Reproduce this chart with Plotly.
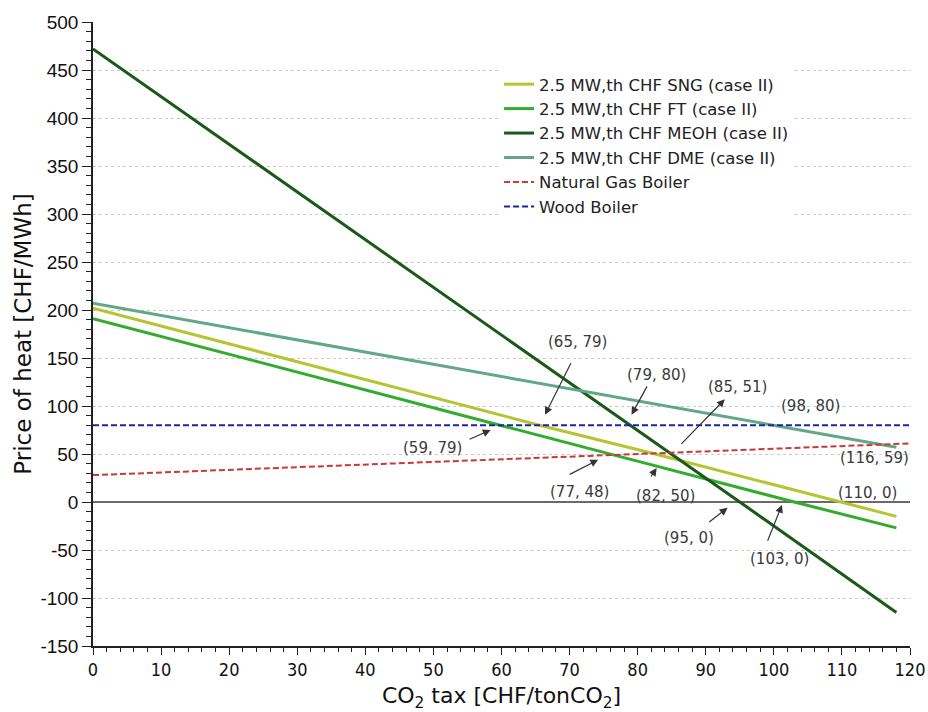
import plotly.graph_objects as go

# ---- data ----
sng_x = [0, 65, 82, 110, 118]
sng_y = [202, 81, 51, 0, -15]
ft_x = [0, 59, 77, 103, 118]
ft_y = [191, 81, 48, 0, -27]
meoh_x = [0, 79, 85, 95, 118]
meoh_y = [472, 80, 50, 0, -115]
dme_x = [0, 98, 116, 118]
dme_y = [207, 82, 59, 57]
ng_x = [0, 120]
ng_y = [28, 61]
wood_x = [0, 120]
wood_y = [80, 80]

names = ["2.5 MW,th CHF SNG (case II)", "2.5 MW,th CHF FT (case II)",
         "2.5 MW,th CHF MEOH (case II)", "2.5 MW,th CHF DME (case II)",
         "Natural Gas Boiler", "Wood Boiler"]

y_tickvals = [-150, -100, -50, 0, 50, 100, 150, 200, 250, 300, 350, 400, 450, 500]
y_ticktext = ["-150", "-100", "-50", "0", "50", "100", "150", "200", "250", "300",
              "350", "400", "450", "500"]

# annotations: label, text position (x, y), arrow tail (x, y) or None, arrow tip (x, y)
ann_labels = ["(65, 79)", "(79, 80)", "(85, 51)", "(98, 80)", "(116, 59)", "(110, 0)",
              "(59, 79)", "(77, 48)", "(82, 50)", "(95, 0)", "(103, 0)"]
ann_text_x = [71.2, 82.8, 94.7, 105.4, 114.8, 113.7, 49.9, 71.5, 84.1, 87.5, 100.8]
ann_text_y = [167, 132, 120, 100, 46, 9, 56, 10, 6, -37.5, -59]
ann_tail_x = [70.3, 81.5, 86.2, None, None, None, 55.1, 69.8, 81.8, 90.3, 99.0]
ann_tail_y = [146, 122, 59, None, None, None, 64.6, 28, 25, -22, -42]
ann_tip_x = [66.4, 79.1, 92.8, None, None, None, 58.4, 74.2, 82.8, 93.2, 101.2]
ann_tip_y = [91, 91, 107, None, None, None, 75, 44, 35.4, -6, -3]

colors = ["#b5c531", "#32ac2f", "#1a5a18", "#62a887", "#c8393a", "#1c24a6"]

fig = go.Figure()
series = [(sng_x, sng_y), (ft_x, ft_y), (meoh_x, meoh_y), (dme_x, dme_y)]
for (xs, ys), nm, c in zip(series, names[:4], colors[:4]):
    fig.add_trace(go.Scatter(x=xs, y=ys, mode="lines", name=nm,
                             line=dict(color=c, width=3)))
fig.add_trace(go.Scatter(x=ng_x, y=ng_y, mode="lines", name=names[4],
                         line=dict(color=colors[4], width=2, dash="6px,3px")))
fig.add_trace(go.Scatter(x=wood_x, y=wood_y, mode="lines", name=names[5],
                         line=dict(color=colors[5], width=2, dash="6px,3px")))

annotations = []
afont = dict(family="DejaVu Sans, Verdana, sans-serif", size=15, color="#3a3a3a")
for i, lab in enumerate(ann_labels):
    annotations.append(dict(x=ann_text_x[i], y=ann_text_y[i], xref="x", yref="y",
                            text=lab, showarrow=False, font=afont))
    if ann_tail_x[i] is not None:
        annotations.append(dict(x=ann_tip_x[i], y=ann_tip_y[i], xref="x", yref="y",
                                ax=ann_tail_x[i], ay=ann_tail_y[i], axref="x", ayref="y",
                                text="", showarrow=True, arrowhead=2, arrowsize=1.3,
                                arrowwidth=1.2, arrowcolor="#333333", standoff=0,
                                startstandoff=0))

fig.update_layout(
    width=928, height=712,
    margin=dict(l=93, r=18, t=22, b=66, autoexpand=False),
    paper_bgcolor="white", plot_bgcolor="white",
    showlegend=True,
    legend=dict(x=0.497, y=0.928, xanchor="left", yanchor="top",
                bgcolor="white", borderwidth=0,
                font=dict(family="DejaVu Sans, Verdana, sans-serif", size=16.5, color="#222"),
                itemwidth=30, tracegroupgap=0),
    annotations=annotations,
)
fig.update_xaxes(
    range=[0, 120], dtick=10, tick0=0, showgrid=False, zeroline=False,
    showline=True, linecolor="#222", linewidth=1.5, automargin=False,
    ticks="outside", ticklen=7, tickcolor="#222", tickwidth=1.2,
    minor=dict(dtick=2, ticks="outside", ticklen=4, tickcolor="#222", showgrid=False),
    tickfont=dict(family="DejaVu Sans Condensed, Liberation Sans Narrow, DejaVu Sans", size=18, color="#111"),
    title=dict(text="CO<sub>2</sub> tax [CHF/tonCO<sub>2</sub>]",
               font=dict(family="DejaVu Sans, Verdana, sans-serif", size=22, color="#111"),
               standoff=10),
)
fig.update_yaxes(
    range=[-150, 500], tickmode="array", tickvals=y_tickvals, ticktext=y_ticktext,
    showgrid=True, gridcolor="#c8c8c8", griddash="dot", gridwidth=1,
    zeroline=True, zerolinecolor="#6a6a6a", zerolinewidth=2, automargin=False,
    showline=True, linecolor="#222", linewidth=1.5,
    ticks="outside", ticklen=9, tickcolor="#222", tickwidth=1.2,
    minor=dict(dtick=10, tick0=0, ticks="outside", ticklen=5, tickcolor="#222", showgrid=False),
    tickfont=dict(family="Liberation Sans, Arial, sans-serif", size=19, color="#111"),
    title=dict(text="Price of heat [CHF/MWh]",
               font=dict(family="DejaVu Sans, Verdana, sans-serif", size=23, color="#111"),
               standoff=2),
)

fig.write_html("out.html")
